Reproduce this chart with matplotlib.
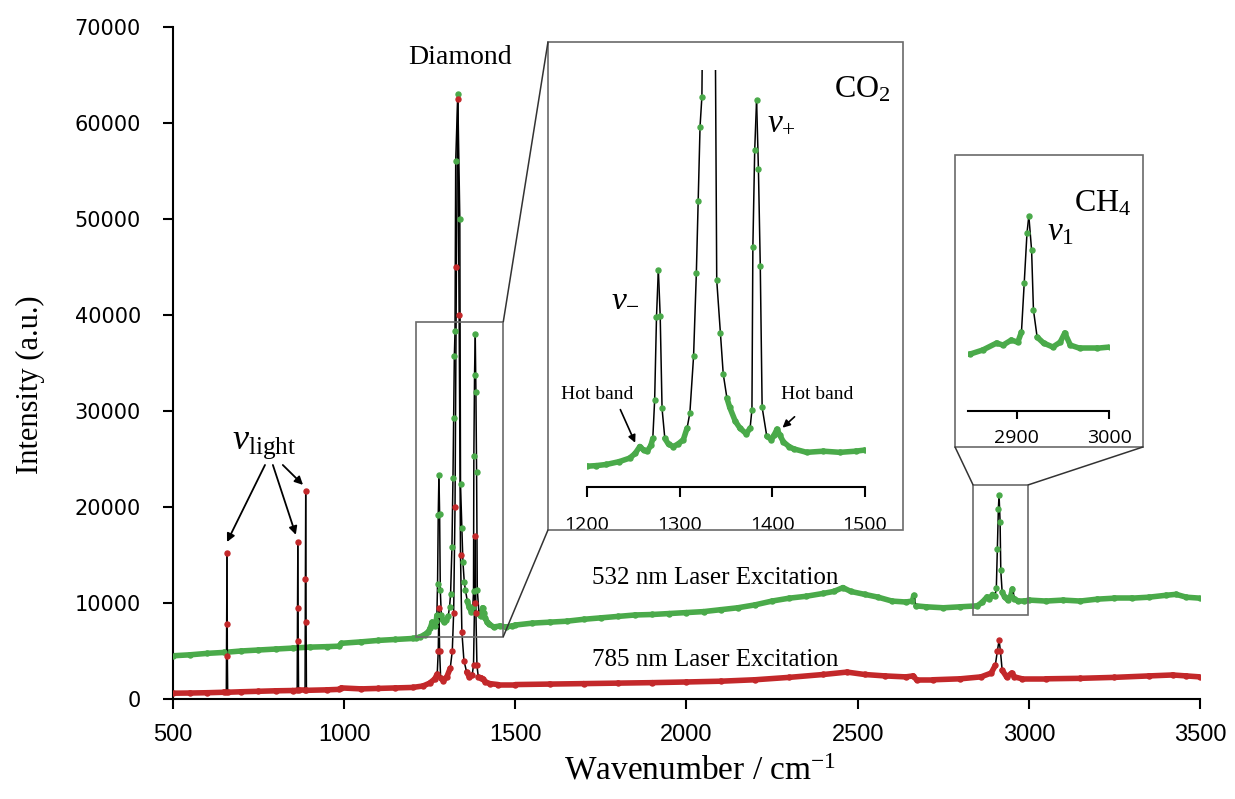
import numpy as np
import matplotlib
matplotlib.use('Agg')
import matplotlib.pyplot as plt
from matplotlib.collections import LineCollection
from matplotlib.patches import Rectangle, ConnectionPatch

plt.rcParams['mathtext.fontset'] = 'custom'
plt.rcParams['mathtext.rm'] = 'Liberation Serif'
plt.rcParams['mathtext.it'] = 'Liberation Serif:italic'
plt.rcParams['mathtext.bf'] = 'Liberation Serif:bold'

# 532 nm excitation spectrum
green_wn = [500, 550, 600, 650, 700, 750, 800, 850, 900, 950, 985, 992, 1050, 1100, 1150,
            1200, 1210, 1221, 1235, 1246, 1252, 1257, 1261, 1265, 1269, 1271, 1273, 1275, 1277,
            1279, 1281, 1284, 1288, 1293, 1298, 1304, 1308, 1311, 1315, 1318, 1320, 1322, 1324,
            1326, 1332, 1338, 1340, 1344, 1347, 1351, 1354, 1360, 1365, 1372, 1376, 1378, 1379,
            1381, 1383, 1385, 1387, 1389, 1394, 1399, 1402, 1405, 1408, 1412, 1418, 1423, 1437,
            1455, 1473, 1490, 1500, 1550, 1600, 1650, 1700, 1750, 1800, 1850, 1900, 1950, 2000,
            2050, 2100, 2150, 2200, 2250, 2300, 2350, 2400, 2430, 2457, 2480, 2520, 2560, 2600,
            2640, 2660, 2664, 2670, 2700, 2750, 2800, 2849, 2863, 2878, 2885, 2894, 2901, 2905,
            2908, 2911, 2913, 2916, 2918, 2922, 2929, 2939, 2947, 2952, 2958, 2968, 2987, 3001,
            3050, 3100, 3150, 3200, 3250, 3300, 3350, 3400, 3430, 3460, 3500]
green_int = [4500, 4600, 4750, 4850, 5000, 5100, 5200, 5300, 5400, 5450, 5500, 5800, 5950, 6100, 6200,
             6300, 6350, 6450, 6700, 7000, 7400, 8000, 7700, 7600, 8100, 8700, 12000, 19200, 23300,
             19300, 11300, 8700, 8200, 8000, 8200, 8600, 9600, 10900, 15800, 23000, 29300, 35700, 38300,
             56000, 63000, 50000, 22400, 17800, 14300, 12200, 11400, 10200, 9600, 9100, 9600, 11200, 25300,
             33700, 38000, 32000, 23600, 11400, 8900, 8600, 9000, 9500, 9000, 8400, 8000, 7800, 7500,
             7600, 7500, 7600, 7700, 7900, 8000, 8100, 8300, 8450, 8600, 8750, 8800, 8900, 9000,
             9100, 9300, 9500, 9800, 10200, 10500, 10700, 11000, 11200, 11600, 11200, 10900, 10600, 10200,
             10100, 10200, 10800, 9700, 9600, 9500, 9600, 9700, 10050, 10630, 10460, 10880, 10700, 11550,
             15650, 19830, 21250, 18400, 13400, 11130, 10630, 10300, 10700, 11470, 10460, 10200, 10200, 10300,
             10200, 10300, 10200, 10400, 10500, 10500, 10600, 10800, 10900, 10600, 10500]

# 785 nm excitation spectrum
red_wn = [500, 550, 600, 650, 656, 657, 658, 659, 660, 700, 750, 800, 850, 863, 864, 865, 866, 867,
          886, 887, 888, 889, 890,
          950, 985, 992, 1050, 1100, 1150, 1200, 1230, 1250, 1265, 1272, 1275, 1277, 1279, 1282,
          1290, 1300, 1310, 1316, 1320, 1324, 1328, 1332, 1336, 1340, 1344, 1350, 1358, 1366,
          1374, 1378, 1381, 1383, 1385, 1388, 1392, 1400, 1405, 1412, 1425, 1450, 1500, 1600,
          1700, 1800, 1900, 2000, 2100, 2200, 2300, 2400, 2469, 2520, 2580, 2640, 2662, 2672,
          2720, 2800, 2860, 2890, 2902, 2908, 2913, 2917, 2922, 2935, 2950, 2958, 2980, 3050,
          3150, 3250, 3350, 3420, 3460, 3500]
red_int = [600, 620, 650, 700, 700, 7800, 15200, 4500, 700, 750, 800, 850, 880, 900, 9500, 16300, 6000, 900,
           900, 12500, 21700, 8000, 900,
           950, 1000, 1150, 1050, 1100, 1150, 1200, 1350, 1650, 2100, 2600, 5000, 9500, 5000, 2200,
           1900, 2300, 3200, 5000, 9000, 20000, 45000, 62500, 40000, 15000, 7000, 4000, 2800, 2300,
           2500, 3500, 10000, 17000, 9000, 3500, 2300, 2200, 2100, 1800, 1600, 1500, 1500, 1550,
           1600, 1650, 1700, 1770, 1850, 2000, 2250, 2550, 2800, 2550, 2400, 2300, 2400, 2000,
           2000, 2100, 2300, 2700, 3500, 5000, 6100, 5000, 3000, 2300, 2700, 2300, 2100, 2100,
           2150, 2250, 2400, 2500, 2400, 2300]

GREEN = '#4aaa4a'
RED = '#c3282a'
serif = 'Liberation Serif'


def draw_spectrum(ax, x, y, color, band=4.0):
    # shallow stretches drawn as a thick coloured band, steep peak flanks as thin black lines
    x = np.asarray(x, float)
    y = np.asarray(y, float)
    xy = np.column_stack([x, y])
    pix = ax.transData.transform(xy)
    d = np.diff(pix, axis=0)
    steep = np.abs(d[:, 1]) > 1.5 * np.abs(d[:, 0]) + 6
    segs = np.stack([xy[:-1], xy[1:]], axis=1)
    ax.add_collection(LineCollection(segs[~steep], colors=color, linewidths=band,
                                     capstyle='round', joinstyle='round', zorder=2), autolim=False)
    ax.add_collection(LineCollection(segs[steep], colors='black', linewidths=1.1, zorder=3),
                      autolim=False)
    ax.plot(x, y, linestyle='none', marker='o', ms=3.6, mfc=color, mec=color, zorder=4)


fig = plt.figure(figsize=(12.35, 7.99), dpi=100)
ax = fig.add_axes([0.140, 0.1252, 0.8317, 0.841])
ax.set_xlim(500, 3500)
ax.set_ylim(0, 70000)
for s in ['top', 'right']:
    ax.spines[s].set_visible(False)
for s in ['left', 'bottom']:
    ax.spines[s].set_linewidth(1.5)
ax.set_xticks(range(500, 3501, 500))
ax.set_yticks(range(0, 70001, 10000))
ax.tick_params(axis='both', direction='out', length=7, width=1.5)
ax.tick_params(axis='y', pad=16, labelsize=15)
ax.tick_params(axis='x', pad=11)
for lab in ax.get_xticklabels():
    lab.set_family('Liberation Sans')
    lab.set_fontsize(17)

draw_spectrum(ax, green_wn, green_int, GREEN)
draw_spectrum(ax, red_wn, red_int, RED)

fig.text(0.025, 0.518, 'Intensity (a.u.)', rotation=90, family=serif, fontsize=22,
         ha='center', va='center')
fig.text(0.567, 0.035, r'Wavenumber / cm$^{-1}$', family=serif, fontsize=24,
         ha='center', va='center')

ax.text(1338, 66800, 'Diamond', family=serif, fontsize=20, ha='center', va='center')
ax.text(2083, 12600, '532 nm Laser Excitation', family=serif, fontsize=18, ha='center', va='center')
ax.text(2083, 4060, '785 nm Laser Excitation', family=serif, fontsize=18, ha='center', va='center')
ax.text(765, 26600, r'$\mathit{v}_{\mathrm{light}}$', fontsize=26, ha='center', va='center')
arrow = dict(arrowstyle='-|>', color='black', lw=1.3, mutation_scale=12, shrinkA=0, shrinkB=0)
ax.annotate('', xy=(658, 16350), xytext=(769, 24375), arrowprops=arrow)
ax.annotate('', xy=(859, 17100), xytext=(792, 24375), arrowprops=arrow)
ax.annotate('', xy=(880, 22300), xytext=(821, 24375), arrowprops=arrow)

# zoom rectangles in main plot
ax.add_patch(Rectangle((1210, 6500), 255, 32800, fill=False, ec='#6a6a6a', lw=1.2, zorder=5))
ax.add_patch(Rectangle((2837, 8750), 161, 13550, fill=False, ec='#6a6a6a', lw=1.2, zorder=5))

# inset boxes
fig.add_artist(Rectangle((0.4437, 0.3367), 0.2874, 0.6108, transform=fig.transFigure,
                         fill=False, ec='#6a6a6a', lw=1.2))
fig.add_artist(Rectangle((0.7733, 0.4406), 0.1522, 0.3655, transform=fig.transFigure,
                         fill=False, ec='#6a6a6a', lw=1.2))

for xyA, xyB in [((1465, 39300), (0.4437, 0.9474)), ((1465, 6500), (0.4437, 0.3367)),
                 ((2837, 22300), (0.7733, 0.4406)), ((2998, 22300), (0.9255, 0.4406))]:
    fig.add_artist(ConnectionPatch(xyA=xyA, coordsA=ax.transData, xyB=xyB,
                                   coordsB=fig.transFigure, color='#333333', lw=1.1))

# CO2 inset
ax2 = fig.add_axes([0.4753, 0.3905, 0.2251, 0.5219])
ax2.set_xlim(1200, 1500)
ax2.set_ylim(4500, 40600)
ax2.patch.set_visible(False)
for s in ['top', 'right', 'left']:
    ax2.spines[s].set_visible(False)
ax2.spines['bottom'].set_linewidth(1.5)
ax2.set_yticks([])
ax2.set_xticks([1200, 1300, 1400, 1500])
ax2.tick_params(axis='x', direction='out', length=7, width=1.5, pad=14)
for lab in ax2.get_xticklabels():
    lab.set_family(['Open Sans', 'DejaVu Sans'])
    lab.set_fontsize(14)
draw_spectrum(ax2, green_wn, green_int, GREEN)
ax2.text(1497, 38900, r'CO$_2$', family=serif, fontsize=23, ha='center', va='center', clip_on=False)
ax2.text(1410, 36200, r'$\mathit{v}_{+}$', fontsize=24, ha='center', va='center')
ax2.text(1241, 21000, r'$\mathit{v}_{-}$', fontsize=24, ha='center', va='center')
ax2.text(1211, 12500, 'Hot band', family=serif, fontsize=14, ha='center', va='center')
ax2.text(1448, 12500, 'Hot band', family=serif, fontsize=14, ha='center', va='center')
arrow2 = dict(arrowstyle='-|>', color='black', lw=1.2, mutation_scale=11, shrinkA=0, shrinkB=0)
ax2.annotate('', xy=(1252, 8330), xytext=(1236, 11200), arrowprops=arrow2)
ax2.annotate('', xy=(1411, 9630), xytext=(1424, 10580), arrowprops=arrow2)

# CH4 inset
ax3 = fig.add_axes([0.7838, 0.4856, 0.1142, 0.3141])
ax3.set_xlim(2847, 3000)
ax3.set_ylim(4950, 25930)
ax3.patch.set_visible(False)
for s in ['top', 'right', 'left']:
    ax3.spines[s].set_visible(False)
ax3.spines['bottom'].set_linewidth(1.5)
ax3.set_yticks([])
ax3.set_xticks([2900, 3000])
ax3.tick_params(axis='x', direction='out', length=6, width=1.5, pad=7)
for lab in ax3.get_xticklabels():
    lab.set_family(['Open Sans', 'DejaVu Sans'])
    lab.set_fontsize(14)
draw_spectrum(ax3, green_wn, green_int, GREEN)
ax3.text(2993, 22300, r'CH$_4$', family=serif, fontsize=23, ha='center', va='center', clip_on=False)
ax3.text(2947, 20000, r'$\mathit{v}_{1}$', fontsize=24, ha='center', va='center')

fig.savefig('out.png', dpi=100)
